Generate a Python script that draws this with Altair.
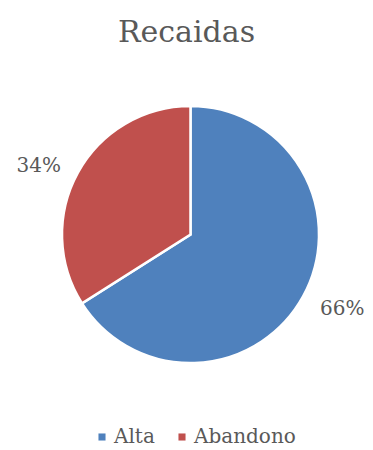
import altair as alt
import pandas as pd

categories = ["Alta", "Abandono"]
values = [66, 34]
labels = ["66%", "34%"]
colors = ["#4F81BD", "#C0504D"]

df = pd.DataFrame({"cat": categories, "value": values, "label": labels, "idx": [0, 1]})

FONT = "DejaVu Serif"
GRAY = "#595959"
TOP = 50
CX, CY = 182.5, 234.5 - 8 - TOP

base = alt.Chart(df).encode(
    theta=alt.Theta("value:Q", stack=True),
    order=alt.Order("idx:Q"),
)

arc = base.mark_arc(outerRadius=128.5, stroke="white", strokeWidth=2.5).encode(
    x=alt.value(CX),
    y=alt.value(CY),
    color=alt.Color(
        "cat:N",
        scale=alt.Scale(domain=categories, range=colors),
        sort=categories,
        legend=alt.Legend(
            title=None,
            orient="none",
            legendX=84,
            legendY=419 - TOP,
            direction="horizontal",
            symbolType="square",
            symbolSize=50,
            symbolStrokeWidth=0,
            labelFont=FONT,
            labelFontSize=20,
            labelColor=GRAY,
            columnPadding=17,
            labelOffset=2,
        ),
    ),
)

text = base.mark_text(
    radius=168, thetaOffset=-0.06, dy=3, font=FONT, fontSize=20, color=GRAY
).encode(
    x=alt.value(CX),
    y=alt.value(CY),
    text="label:N",
)

chart = (
    alt.layer(arc, text)
    .properties(
        width=357,
        height=440 - TOP,
        autosize=alt.AutoSizeParams(type="none"),
        padding={"left": 0, "top": TOP, "right": 0, "bottom": 0},
        title=alt.TitleParams(
            "Recaidas",
            font=FONT,
            fontSize=30,
            fontWeight="normal",
            color=GRAY,
            anchor="middle",
            frame="group",
            baseline="alphabetic",
            offset=-14,
        ),
    )
    .configure_view(stroke=None)
)

chart.save("out.html", embed_options={"renderer": "svg", "actions": False})
